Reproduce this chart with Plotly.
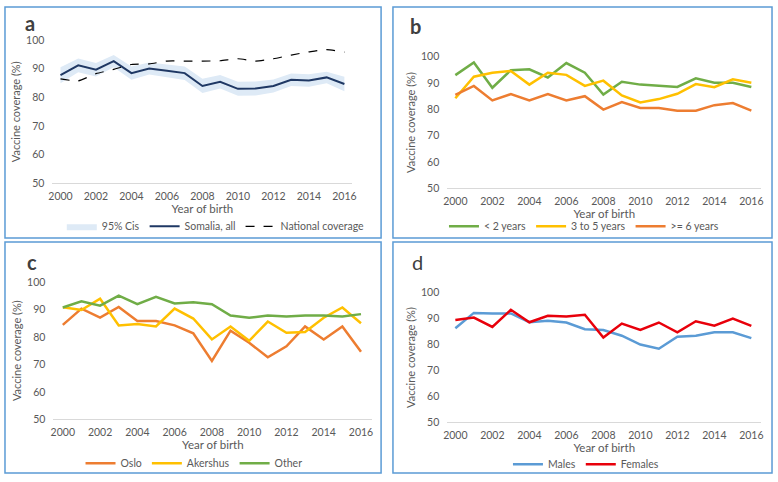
import plotly.graph_objects as go

W, H = 778, 482

years = list(range(2000, 2017))

# Panel a
somalia_all = [87.8, 91.2, 89.7, 92.7, 88.5, 90.1, 89.3, 88.5, 84.0, 85.5, 83.0, 83.1, 84.0, 86.2, 85.9, 87.0, 84.7]
ci_upper = [90.5, 93.6, 92.0, 94.8, 90.8, 92.2, 91.5, 90.8, 86.5, 87.8, 85.5, 85.6, 86.3, 88.4, 88.1, 89.0, 87.2]
ci_lower = [85.0, 88.8, 87.3, 90.5, 86.2, 88.0, 87.1, 86.1, 81.6, 83.1, 80.6, 80.7, 81.7, 84.0, 83.7, 85.0, 82.2]
national = [86.5, 85.8, 88.3, 89.8, 91.5, 91.7, 92.7, 92.7, 92.7, 92.8, 93.5, 92.7, 93.5, 94.8, 95.9, 96.7, 95.8]

# Panel b
under2 = [93.0, 97.8, 88.2, 94.9, 95.2, 92.1, 97.6, 93.9, 85.6, 90.5, 89.4, 89.0, 88.5, 91.8, 90.1, 90.1, 88.5]
age3to5 = [84.2, 92.4, 93.9, 94.6, 89.4, 93.9, 93.1, 88.9, 90.9, 85.3, 82.6, 83.9, 85.9, 89.6, 88.4, 91.4, 90.1]
age6plus = [85.5, 88.9, 83.4, 85.8, 83.4, 85.8, 83.4, 85.0, 79.9, 82.8, 80.5, 80.5, 79.5, 79.5, 81.6, 82.4, 79.5]

# Panel c
oslo = [84.4, 90.3, 87.0, 90.9, 85.8, 85.8, 84.2, 81.3, 71.3, 82.3, 77.9, 72.6, 76.6, 83.8, 79.1, 83.8, 74.6]
akershus = [90.8, 89.8, 93.9, 84.2, 84.7, 83.8, 90.3, 86.7, 79.1, 83.8, 78.6, 85.6, 81.5, 81.8, 87.0, 90.7, 85.0]
other = [90.7, 93.0, 91.4, 95.0, 91.9, 94.6, 92.2, 92.6, 91.9, 87.8, 87.0, 87.8, 87.4, 87.8, 87.8, 87.4, 88.3]

# Panel d
males = [86.3, 92.2, 92.0, 92.0, 88.6, 89.2, 88.5, 85.9, 85.6, 83.4, 80.0, 78.4, 83.0, 83.4, 84.7, 84.7, 82.5]
females = [89.5, 90.4, 86.8, 93.4, 88.6, 91.1, 90.8, 91.5, 82.7, 88.1, 85.6, 88.5, 84.7, 89.0, 87.3, 90.0, 87.2]

y_ticks = [50, 60, 70, 80, 90, 100]
x_ticks = list(range(2000, 2017, 2))

FONT = "Lato, Open Sans, sans-serif"
TXT = "#595959"


def px_x(x):
    return x / W


def px_y(y):
    return (H - y) / H


fig = go.Figure()

# Panel a
fig.add_trace(go.Scatter(
    x=years + years[::-1], y=ci_upper + ci_lower[::-1], fill="toself",
    fillcolor="#DEEAF6", line=dict(width=0, color="#DEEAF6"), mode="lines",
    name="95% Cis", xaxis="x", yaxis="y", legend="legend", hoverinfo="skip"))
fig.add_trace(go.Scatter(
    x=years, y=somalia_all, mode="lines", line=dict(color="#1F3864", width=2),
    name="Somalia, all", xaxis="x", yaxis="y", legend="legend"))
fig.add_trace(go.Scatter(
    x=years, y=national, mode="lines", line=dict(color="#000000", width=1.2, dash="dash", shape="spline", smoothing=0.6),
    name="National coverage", xaxis="x", yaxis="y", legend="legend"))

# Panel b
fig.add_trace(go.Scatter(x=years, y=under2, mode="lines", line=dict(color="#70AD47", width=2.5),
                         name="< 2 years", xaxis="x2", yaxis="y2", legend="legend2"))
fig.add_trace(go.Scatter(x=years, y=age3to5, mode="lines", line=dict(color="#FFC000", width=2.5),
                         name="3 to 5 years", xaxis="x2", yaxis="y2", legend="legend2"))
fig.add_trace(go.Scatter(x=years, y=age6plus, mode="lines", line=dict(color="#ED7D31", width=2.5),
                         name=">= 6 years", xaxis="x2", yaxis="y2", legend="legend2"))

# Panel c
fig.add_trace(go.Scatter(x=years, y=oslo, mode="lines", line=dict(color="#ED7D31", width=2.5),
                         name="Oslo", xaxis="x3", yaxis="y3", legend="legend3"))
fig.add_trace(go.Scatter(x=years, y=akershus, mode="lines", line=dict(color="#FFC000", width=2.5),
                         name="Akershus", xaxis="x3", yaxis="y3", legend="legend3"))
fig.add_trace(go.Scatter(x=years, y=other, mode="lines", line=dict(color="#70AD47", width=2.5),
                         name="Other", xaxis="x3", yaxis="y3", legend="legend3"))

# Panel d
fig.add_trace(go.Scatter(x=years, y=males, mode="lines", line=dict(color="#5B9BD5", width=2.5),
                         name="Males", xaxis="x4", yaxis="y4", legend="legend4"))
fig.add_trace(go.Scatter(x=years, y=females, mode="lines", line=dict(color="#E8000B", width=2.5),
                         name="Females", xaxis="x4", yaxis="y4", legend="legend4"))

# panel geometry in pixels: (x_left, x_right, y_top(100), y_bottom(50), xrange)
panels = {
    "": (49, 352, 35, 182, [1999.55, 2016.45]),
    "2": (448, 765, 52, 187, [1999.57, 2016.53]),
    "3": (50, 372, 283, 424, [1999.5, 2016.6]),
    "4": (448, 765, 294, 427, [1999.57, 2016.53]),
}

layout = dict(
    width=W, height=H, margin=dict(l=0, r=0, t=0, b=0),
    paper_bgcolor="white", plot_bgcolor="white",
    font=dict(family=FONT, size=10, color=TXT),
    showlegend=True,
)

for k, (x0, x1, yt, yb, xr) in panels.items():
    anchor_y = "y" + k
    anchor_x = "x" + k
    layout["xaxis" + k] = dict(
        domain=[px_x(x0), px_x(x1)], anchor=anchor_y, range=xr,
        tickvals=x_ticks, ticktext=[str(t) for t in x_ticks],
        showgrid=False, zeroline=False, showline=True, linecolor="#D9D9D9", linewidth=1,
        ticks="outside", ticklen=3, tickcolor="rgba(0,0,0,0)",
        tickfont=dict(size=10.5, color=TXT, family=FONT),
        title=dict(text="Year of birth", font=dict(size=11.5, color=TXT, family=FONT), standoff=0),
    )
    layout["yaxis" + k] = dict(
        domain=[px_y(yb), px_y(yt)], anchor=anchor_x, range=[50, 100],
        tickvals=y_ticks, showgrid=False, zeroline=False, showline=False,
        ticks="outside", ticklen=5, tickcolor="rgba(0,0,0,0)",
        tickfont=dict(size=10.5, color=TXT, family=FONT),
        title=dict(text="Vaccine coverage (%)", font=dict(size=11, color=TXT, family=FONT), standoff=3),
    )

legend_pos = {
    "legend": (214, 226),
    "legend2": (586, 226),
    "legend3": (192, 469),
    "legend4": (588, 470),
}
for name, (cx, cy) in legend_pos.items():
    layout[name] = dict(
        orientation="h", x=px_x(cx), y=px_y(cy), xanchor="center", yanchor="middle",
        font=dict(size=10.5, color=TXT, family=FONT), bgcolor="rgba(0,0,0,0)",
        itemwidth=30, tracegroupgap=0,
    )

fig.update_layout(**layout)

# panel borders
boxes = [(1, 1, 381, 238), (393, 1, 776, 238), (1, 242, 381, 479), (393, 242, 776, 479)]
for (x0, y0, x1, y1) in boxes:
    fig.add_shape(type="rect", xref="paper", yref="paper",
                  x0=px_x(x0), x1=px_x(x1), y0=px_y(y1), y1=px_y(y0),
                  line=dict(color="#5B9BD5", width=1.5), fillcolor="rgba(0,0,0,0)")

letters = [("<b>a</b>", 26, 17), ("<b>b</b>", 416, 20), ("<b>c</b>", 28, 263), ("d", 418, 263)]
for txt, cx, cy in letters:
    fig.add_annotation(text=txt, x=px_x(cx), y=px_y(cy), xref="paper", yref="paper",
                       showarrow=False, xanchor="center", yanchor="middle",
                       font=dict(size=20, color="#404040", family=FONT))

fig.write_html("out.html", config={"displayModeBar": False},
               post_script="document.body.style.margin='0';")
